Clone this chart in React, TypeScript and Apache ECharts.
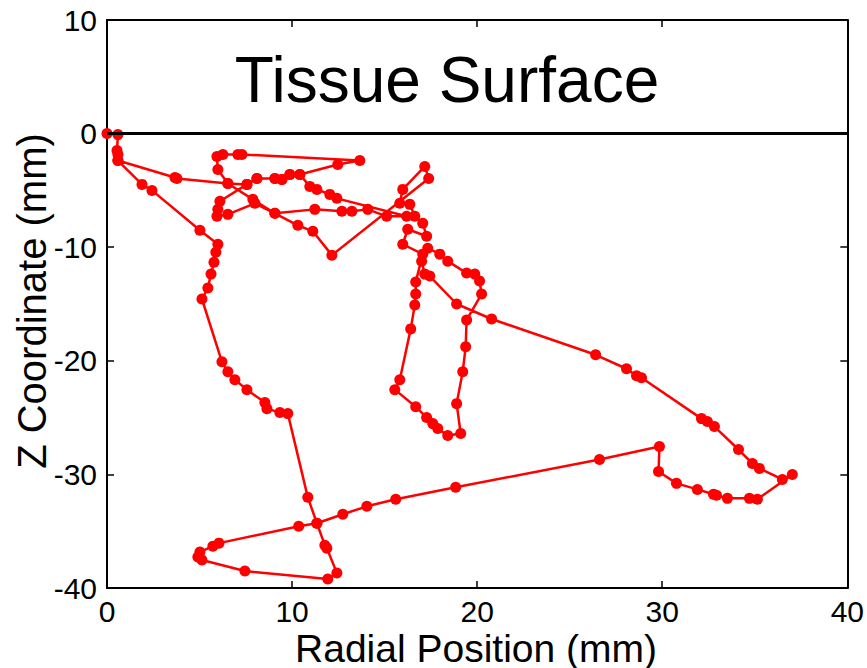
import React, { useEffect, useRef } from "react";
import * as echarts from "echarts";

// Trajectory (mm)
const radialPosition = [
  0, 0.59, 0.54, 0.59, 0.59, 1.89, 2.43, 5.02, 5.99, 5.88,
  5.78, 5.62, 5.45, 5.13, 6.21, 6.53, 6.91, 7.56, 8.53, 8.64,
  9.34, 9.77, 10.85, 11.34, 11.77, 11.88, 12.42, 11.93, 7.45, 5.13,
  4.91, 5.02, 5.72, 6.05, 10.36, 11.34, 12.74, 14.04, 15.6, 18.84,
  26.61, 29.85, 29.8, 30.77, 31.9, 32.77, 32.93, 33.52, 34.71, 35.14,
  37.03, 36.49, 35.25, 34.87, 34.12, 32.82, 32.44, 32.12, 28.88, 28.61,
  28.07, 26.4, 20.78, 18.89, 17.44, 17.17, 17.0, 17.33, 17.98, 18.41,
  19.43, 19.87, 20.13, 20.24, 19.43, 19.38, 19.22, 18.89, 19.11, 18.41,
  17.87, 17.6, 17.27, 16.68, 15.55, 15.82, 16.41, 16.63, 16.68, 16.68,
  17.06, 15.98, 16.25, 17.27, 17.06, 16.63, 16.36, 15.82, 15.98, 17.17,
  17.38, 12.15, 11.12, 10.31, 9.07, 7.99, 6.53, 5.94, 5.99, 6.1,
  7.56, 8.1, 9.07, 9.45, 9.88, 10.42, 12.47, 13.66, 7.29, 7.07,
  6.26, 5.94, 5.99, 6.53, 7.88, 9.07, 11.23, 12.69, 13.23, 14.09,
  15.11, 16.19, 12.42, 12.04, 11.34, 10.96, 10.42, 9.88, 9.45, 9.07,
  8.1, 7.56, 6.53, 3.78, 3.67, 0.59,
];

const zCoordinate = [
  0, -0.09, -1.49, -1.84, -2.37, -4.47, -5.0, -8.51, -9.74, -10.44,
  -11.32, -12.37, -13.6, -14.56, -20.09, -20.96, -21.67, -22.54, -23.68, -24.21,
  -24.56, -24.65, -32.02, -34.3, -36.23, -36.49, -38.68, -39.21, -38.51, -37.54,
  -37.28, -36.84, -36.32, -36.05, -34.56, -34.3, -33.51, -32.81, -32.19, -31.14,
  -28.68, -27.54, -29.74, -30.79, -31.32, -31.75, -31.84, -32.11, -32.11, -32.19,
  -30.0, -30.44, -29.47, -29.04, -27.81, -25.79, -25.35, -25.09, -21.49, -21.32,
  -20.7, -19.47, -16.32, -15.0, -12.54, -12.37, -11.23, -10.09, -10.61, -11.23,
  -12.28, -12.37, -12.98, -14.12, -16.4, -18.77, -20.96, -23.77, -26.4, -26.58,
  -25.96, -25.53, -25.0, -24.04, -22.54, -21.67, -17.19, -15.09, -14.12, -13.07,
  -10.61, -9.74, -8.42, -9.04, -7.89, -7.28, -6.23, -6.14, -4.91, -2.89,
  -3.95, -10.7, -8.6, -8.07, -7.02, -6.14, -7.11, -7.28, -6.67, -5.96,
  -4.47, -3.95, -3.95, -4.04, -3.6, -3.6, -2.72, -2.37, -1.84, -1.84,
  -1.84, -2.02, -3.16, -4.39, -5.79, -7.02, -6.67, -6.84, -6.84, -6.67,
  -7.28, -7.28, -5.7, -5.35, -4.91, -4.65, -3.6, -3.6, -4.04, -3.95,
  -3.95, -4.47, -4.39, -3.95, -3.86, -2.37,
];

const xRange = [0, 40];
const yRange = [-40, 10];
const tickStep = 10;
const surfaceLevel = 0;
const titleText = "Tissue Surface";
const xAxisName = "Radial Position (mm)";
const yAxisName = "Z Coordinate (mm)";

const FONT = '"Liberation Sans", Arial, Helvetica, sans-serif';

export default function App() {
  const ref = useRef<HTMLDivElement>(null);

  useEffect(() => {
    if (!ref.current) return;
    const chart = echarts.init(ref.current, null, { renderer: "svg" });
    const data = radialPosition.map((x, i) => [x, zCoordinate[i]]);

    const axisLine = { show: true, onZero: false, lineStyle: { color: "#000", width: 2 } };
    const axisTick = { show: true, inside: true, length: 7, lineStyle: { color: "#000", width: 1.5 } };

    chart.setOption({
      animation: false,
      backgroundColor: "#ffffff",
      grid: { left: 107, top: 20, right: 19, bottom: 80, containLabel: false },
      xAxis: [
        {
          type: "value",
          min: xRange[0],
          max: xRange[1],
          interval: tickStep,
          position: "bottom",
          axisLine,
          axisTick,
          splitLine: { show: false },
          axisLabel: { color: "#000", fontSize: 30, fontFamily: FONT, margin: 8 },
        },
        {
          type: "value",
          min: xRange[0],
          max: xRange[1],
          interval: tickStep,
          position: "top",
          axisLine,
          axisTick,
          splitLine: { show: false },
          axisLabel: { show: false },
        },
      ],
      yAxis: [
        {
          type: "value",
          min: yRange[0],
          max: yRange[1],
          interval: tickStep,
          position: "left",
          axisLine,
          axisTick,
          splitLine: { show: false },
          axisLabel: { color: "#000", fontSize: 30, fontFamily: FONT, margin: 10 },
        },
        {
          type: "value",
          min: yRange[0],
          max: yRange[1],
          interval: tickStep,
          position: "right",
          axisLine,
          axisTick,
          splitLine: { show: false },
          axisLabel: { show: false },
        },
      ],
      graphic: [
        {
          type: "text",
          x: 447,
          y: 80,
          style: {
            text: titleText,
            fill: "#000",
            fontSize: 64,
            fontFamily: FONT,
            textAlign: "center",
            textVerticalAlign: "middle",
          },
        },
        {
          type: "text",
          x: 476,
          y: 648,
          style: {
            text: xAxisName,
            fill: "#000",
            fontSize: 39,
            fontFamily: FONT,
            textAlign: "center",
            textVerticalAlign: "middle",
          },
        },
        {
          type: "text",
          x: 32,
          y: 301,
          rotation: Math.PI / 2,
          style: {
            text: yAxisName,
            fill: "#000",
            fontSize: 40,
            fontFamily: FONT,
            textAlign: "center",
            textVerticalAlign: "middle",
          },
        },
      ],
      series: [
        {
          type: "line",
          data,
          xAxisIndex: 0,
          yAxisIndex: 0,
          symbol: "circle",
          symbolSize: 11,
          showAllSymbol: true,
          lineStyle: { color: "#ff0000", width: 2.5 },
          itemStyle: { color: "#ff0000" },
          clip: false,
          z: 2,
          markLine: {
            silent: true,
            symbol: ["none", "none"],
            label: { show: false },
            lineStyle: { color: "#000", width: 3, type: "solid" },
            emphasis: { disabled: true },
            data: [{ yAxis: surfaceLevel }],
          },
        },
      ],
    });

    return () => chart.dispose();
  }, []);

  return (
    <div
      ref={ref}
      style={{ position: "fixed", left: 0, top: 0, width: 867, height: 668, background: "#fff" }}
    />
  );
}
